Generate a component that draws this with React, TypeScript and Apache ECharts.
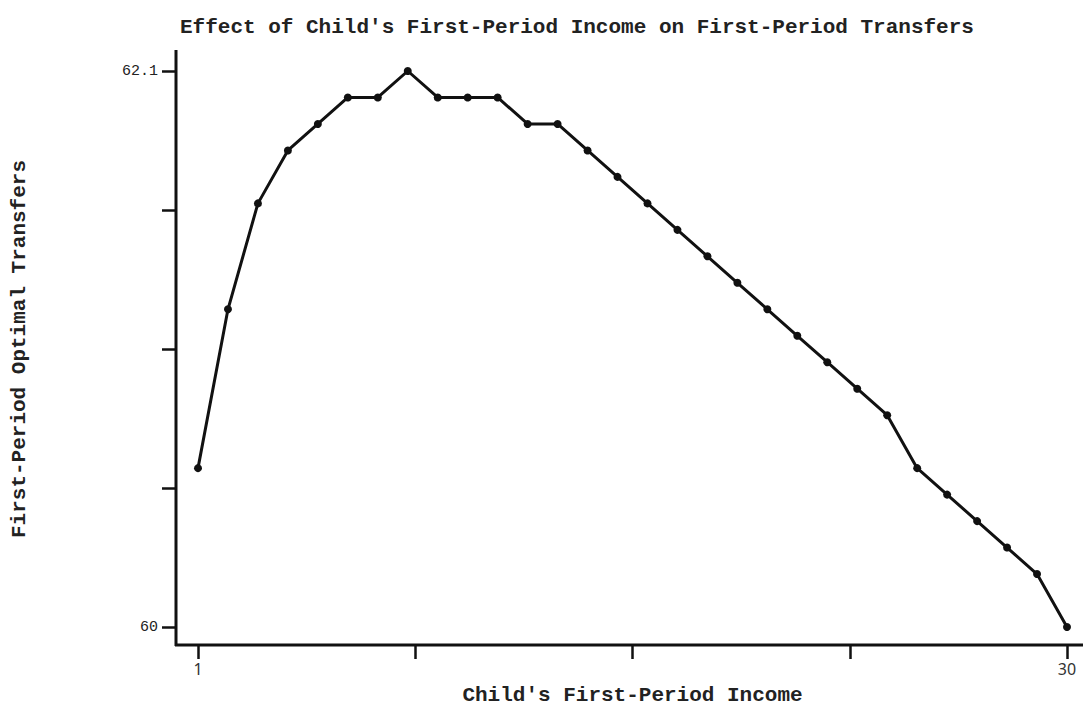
import React, { useEffect, useRef } from "react";
import * as echarts from "echarts";

const incomes = [1, 2, 3, 4, 5, 6, 7, 8, 9, 10, 11, 12, 13, 14, 15, 16, 17, 18, 19, 20, 21, 22, 23, 24, 25, 26, 27, 28, 29, 30];
const transfers = [60.6, 61.2, 61.6, 61.8, 61.9, 62.0, 62.0, 62.1, 62.0, 62.0, 62.0, 61.9, 61.9, 61.8, 61.7, 61.6, 61.5, 61.4, 61.3, 61.2, 61.1, 61.0, 60.9, 60.8, 60.6, 60.5, 60.4, 60.3, 60.2, 60.0];
const xTicks = [1, 8.25, 15.5, 22.75, 30];
const xTickLabels = [1, 30];
const yTicks = [60, 60.525, 61.05, 61.575, 62.1];
const yTickLabels = [60, 62.1];

const titleText = "Effect of Child's First-Period Income on First-Period Transfers";
const xName = "Child's First-Period Income";
const yName = "First-Period Optimal Transfers";

const mono = "'Liberation Mono', 'DejaVu Sans Mono', monospace";

export default function App() {
  const ref = useRef<HTMLDivElement>(null);
  useEffect(() => {
    if (!ref.current) return;
    const chart = echarts.init(ref.current, undefined, { renderer: "svg" });
    chart.setOption({
      animation: false,
      backgroundColor: "#ffffff",
      title: {
        text: titleText,
        left: 175,
        top: 12,
        textStyle: { fontFamily: mono, fontSize: 21, fontWeight: "bold", color: "#222" },
      },
      grid: { left: 198, right: 24, top: 71, bottom: 84 },
      xAxis: {
        type: "value",
        min: 1,
        max: 30,
        offset: 18,
        name: xName,
        nameLocation: "middle",
        nameGap: 40,
        nameTextStyle: { fontFamily: mono, fontSize: 21, fontWeight: "bold", color: "#222" },
        axisLine: { show: false },
        axisTick: { show: true, customValues: xTicks, length: 14, lineStyle: { color: "#111", width: 2.5 } },
        axisLabel: { customValues: xTickLabels, fontFamily: "'Noto Sans', sans-serif", fontSize: 16, color: "#333", margin: 16 },
        splitLine: { show: false },
      },
      yAxis: {
        type: "value",
        min: 60,
        max: 62.1,
        offset: 22,
        name: yName,
        nameLocation: "middle",
        nameGap: 146,
        nameTextStyle: { fontFamily: mono, fontSize: 21, fontWeight: "bold", color: "#222" },
        axisLine: { show: false },
        axisTick: { show: true, customValues: yTicks, length: 14, lineStyle: { color: "#111", width: 2.5 } },
        axisLabel: { customValues: yTickLabels, fontFamily: mono, fontSize: 15, color: "#222", margin: 18 },
        splitLine: { show: false },
      },
      graphic: [
        { type: "line", shape: { x1: 176, y1: 50, x2: 176, y2: 646 }, style: { stroke: "#111", lineWidth: 3 } },
        { type: "line", shape: { x1: 175, y1: 645, x2: 1091, y2: 645 }, style: { stroke: "#111", lineWidth: 3 } },
      ],
      series: [
        {
          type: "line",
          data: incomes.map((x, i) => [x, transfers[i]]),
          symbol: "circle",
          symbolSize: 8,
          lineStyle: { color: "#111", width: 3 },
          itemStyle: { color: "#111" },
        },
      ],
    });
    return () => chart.dispose();
  }, []);
  return <div ref={ref} style={{ width: 1091, height: 711, margin: -8 }} />;
}
